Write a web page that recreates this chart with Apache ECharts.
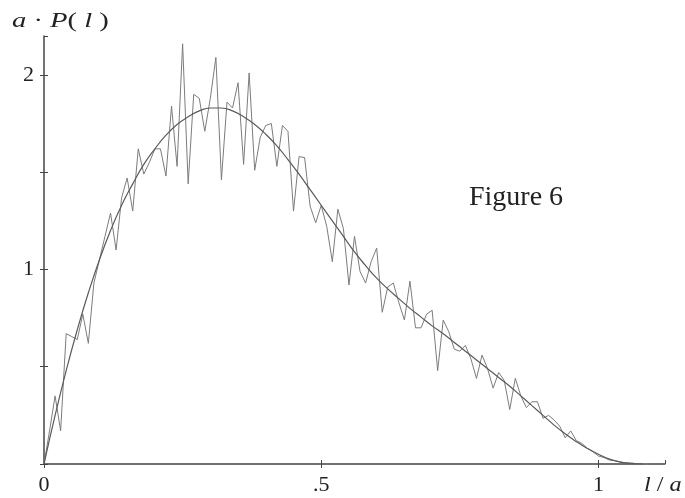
<!DOCTYPE html>
<html lang="en">
  <head>
    <meta charset="UTF-8" />
    <script src="https://cdn.jsdelivr.net/npm/echarts@6/dist/echarts.min.js"></script>
    <title>Figure 6</title>
    <style>
      html, body { margin: 0; padding: 0; background: #fff; }
      #app { width: 685px; height: 498px; }
    </style>
  </head>
  <body>
    <div id="app"></div>

    <script>
      // histogram of l/a, one value every 0.01
      const step = 0.01;
      const noisy = [
        0, 0.17, 0.35, 0.17, 0.67, 0.655, 0.64, 0.77, 0.62, 0.93,
        1.05, 1.17, 1.29, 1.10, 1.37, 1.47, 1.30, 1.62, 1.49, 1.55,
        1.62, 1.62, 1.48, 1.84, 1.53, 2.16, 1.44, 1.90, 1.88, 1.71,
        1.88, 2.09, 1.46, 1.86, 1.83, 1.96, 1.54, 2.01, 1.51, 1.68,
        1.74, 1.75, 1.53, 1.74, 1.71, 1.30, 1.58, 1.575, 1.325, 1.24,
        1.33, 1.22, 1.04, 1.31, 1.21, 0.92, 1.17, 0.99, 0.93, 1.04,
        1.11, 0.78, 0.91, 0.93, 0.83, 0.74, 0.94, 0.70, 0.70, 0.77,
        0.79, 0.48, 0.74, 0.68, 0.59, 0.58, 0.61, 0.54, 0.44, 0.56,
        0.49, 0.39, 0.47, 0.43, 0.28, 0.44, 0.35, 0.29, 0.32, 0.32,
        0.235, 0.25, 0.226, 0.195, 0.135, 0.17, 0.12, 0.106, 0.08, 0.063,
        0.041, 0.033, 0.02, 0.017, 0.01, 0.006, 0.004, 0.002, 0.001, 0
      ];

      // theoretical curve
      const curveX = [
        0, 0.02, 0.04, 0.06, 0.08, 0.10, 0.12, 0.14, 0.16, 0.18,
        0.20, 0.22, 0.24, 0.26, 0.28, 0.30, 0.32, 0.34, 0.36, 0.38,
        0.40, 0.42, 0.44, 0.46, 0.48, 0.50, 0.52, 0.54, 0.56, 0.58,
        0.60, 0.62, 0.64, 0.66, 0.68, 0.70, 0.72, 0.74, 0.76, 0.78,
        0.80, 0.82, 0.84, 0.86, 0.88, 0.90, 0.92, 0.94, 0.96, 0.98,
        1.00, 1.02, 1.04, 1.06, 1.08
      ];
      const curveY = [
        0, 0.25, 0.48, 0.69, 0.88, 1.05, 1.20, 1.33, 1.44, 1.54,
        1.62, 1.69, 1.745, 1.785, 1.815, 1.83, 1.83, 1.815, 1.785, 1.745,
        1.695, 1.635, 1.565, 1.49, 1.41, 1.33, 1.25, 1.17, 1.09, 1.02,
        0.955, 0.90, 0.85, 0.80, 0.755, 0.71, 0.67, 0.625, 0.58, 0.535,
        0.49, 0.445, 0.40, 0.35, 0.30, 0.25, 0.20, 0.155, 0.115, 0.08,
        0.05, 0.025, 0.01, 0.003, 0
      ];

      const xLabels = { 0: "0", 0.5: ".5", 1: "1" };
      const yLabels = { 1: "1", 2: "2" };

      const serif = "'Liberation Serif', 'DejaVu Serif', serif";
      const ink = "#222";

      const chart = echarts.init(document.getElementById("app"));

      const tickCommon = { show: true, length: 4, lineStyle: { color: "#444", width: 1 } };

      chart.setOption({
        animation: false,
        grid: { left: 44, right: 20, top: 36, bottom: 34 },
        xAxis: [
          {
            type: "value",
            min: 0,
            max: 1.12,
            interval: 0.5,
            splitLine: { show: false },
            axisLine: { show: true, onZero: false, lineStyle: { color: "#444", width: 1.5 } },
            axisTick: tickCommon,
            axisLabel: {
              showMaxLabel: false,
              margin: 10,
              fontFamily: serif,
              fontSize: 22,
              color: ink,
              formatter: (v) => xLabels[v] ?? "",
            },
          },
          {
            // second copy of the axis only for the inner half of the ticks
            type: "value",
            position: "bottom",
            min: 0,
            max: 1.12,
            interval: 0.5,
            splitLine: { show: false },
            axisLine: { show: false },
            axisTick: Object.assign({}, tickCommon, { inside: true }),
            axisLabel: { show: false },
          },
        ],
        yAxis: [
          {
            type: "value",
            min: 0,
            max: 2.2,
            interval: 0.5,
            splitLine: { show: false },
            axisLine: { show: true, onZero: false, lineStyle: { color: "#444", width: 1.5 } },
            axisTick: tickCommon,
            axisLabel: {
              showMaxLabel: false,
              margin: 10,
              fontFamily: serif,
              fontSize: 22,
              color: ink,
              formatter: (v) => yLabels[v] ?? "",
            },
          },
          {
            type: "value",
            position: "left",
            min: 0,
            max: 2.2,
            interval: 0.5,
            splitLine: { show: false },
            axisLine: { show: false },
            axisTick: Object.assign({}, tickCommon, { inside: true }),
            axisLabel: { show: false },
          },
        ],
        series: [
          {
            name: "sample",
            type: "line",
            showSymbol: false,
            silent: true,
            data: noisy.map((v, i) => [+(i * step).toFixed(2), v]),
            lineStyle: { color: "#7c7c7c", width: 1 },
          },
          {
            name: "theory",
            type: "line",
            smooth: 0.5,
            showSymbol: false,
            silent: true,
            data: curveX.map((x, i) => [x, curveY[i]]),
            lineStyle: { color: "#5a5a5a", width: 1.2 },
          },
        ],
        graphic: [
          {
            type: "text",
            x: 12,
            y: 10,
            scaleX: 1.3,
            style: {
              text: "{i|a} · {i|P}( {i|l} )",
              fill: ink,
              font: "22px " + serif,
              rich: {
                i: { fontFamily: serif, fontStyle: "italic", fontSize: 22, fill: ink },
              },
            },
          },
          {
            type: "text",
            x: 644,
            y: 474,
            scaleX: 1.1,
            style: {
              text: "{i|l} / {i|a}",
              fill: ink,
              font: "22px " + serif,
              rich: {
                i: { fontFamily: serif, fontStyle: "italic", fontSize: 22, fill: ink },
              },
            },
          },
          {
            type: "text",
            left: 469,
            top: 184,
            style: {
              text: "Figure 6",
              fill: ink,
              font: "28px " + serif,
            },
          },
        ],
      });
    </script>
  </body>
</html>
